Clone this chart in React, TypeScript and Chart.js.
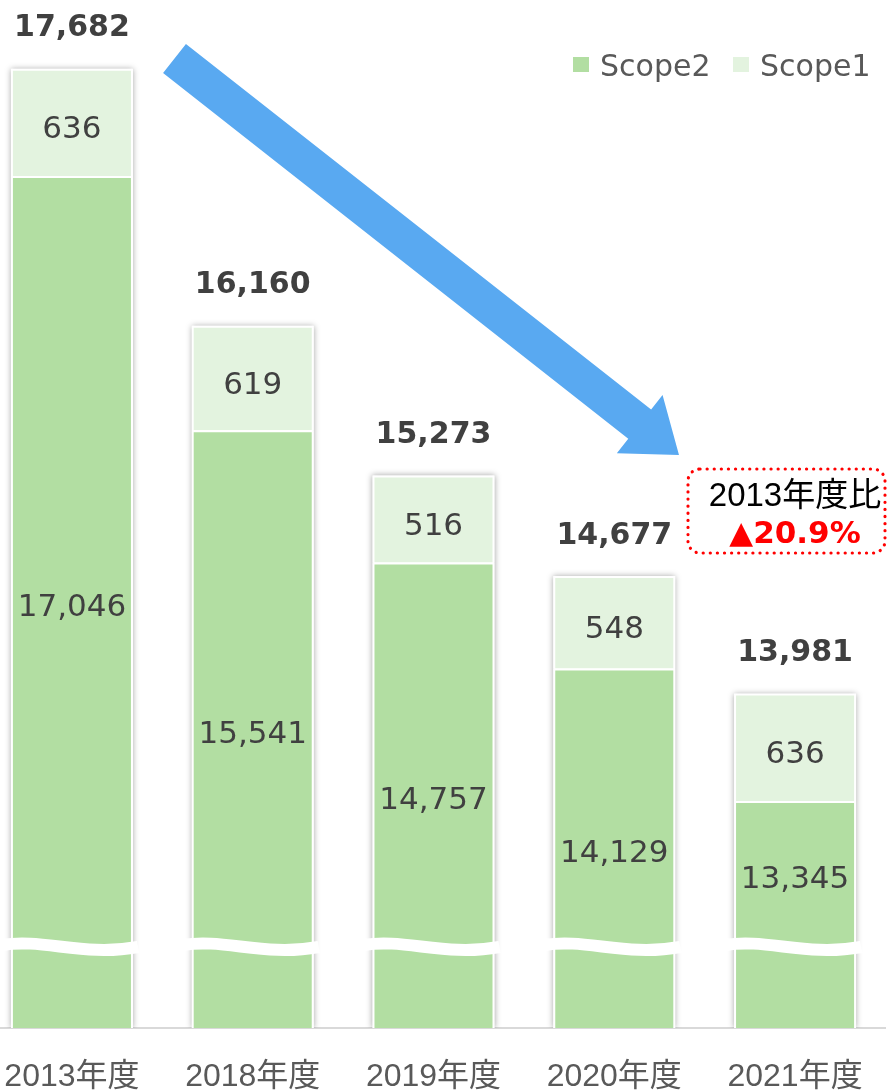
import React, { useEffect, useRef } from "react";
import { Chart, registerables } from "chart.js";

Chart.register(...registerables);

// ---- data ----
const categories = ["2013年度", "2018年度", "2019年度", "2020年度", "2021年度"];
const seriesNames = ["Scope2", "Scope1"];
const scope2 = [17046, 15541, 14757, 14129, 13345];
const scope1 = [636, 619, 516, 548, 636];
const axisMin = 12000;
const axisMax = 18000;
const noteLines = ["2013年度比", "▲20.9%"];

// ---- style ----
const SCOPE2_COLOR = "#b2dea2";
const SCOPE1_COLOR = "#e3f3df";
const TEXT_DARK = "#404040";
const TEXT_GREY = "#595959";
const ARROW_COLOR = "#59a9f1";
const OX = 25; // canvas is shifted left by this many px
const CW = 917;
const BREAK_OFFSET = 82; // px above the axis where the break wave sits
const NUM_FONT = '"DejaVu Sans", Verdana, sans-serif';
const JP_FONT = '"Liberation Sans", "Noto Sans CJK JP", sans-serif';

const fmt = (v: number) => v.toLocaleString("en-US");

const decorPlugin = {
  id: "decor",
  beforeDatasetsDraw(chart: any) {
    const ctx = chart.ctx as CanvasRenderingContext2D;
    const area = chart.chartArea;
    const top = chart.getDatasetMeta(1);
    ctx.save();
    ctx.beginPath();
    ctx.rect(0, 0, chart.width, area.bottom);
    ctx.clip();
    ctx.shadowColor = "rgba(0,0,0,0.35)";
    ctx.shadowBlur = 6;
    ctx.fillStyle = "#ffffff";
    top.data.forEach((el: any) => {
      const p = el.getProps(["x", "y", "width"], true);
      ctx.fillRect(p.x - p.width / 2, p.y, p.width, area.bottom - p.y);
    });
    ctx.restore();
  },
  afterDatasetsDraw(chart: any) {
    const ctx = chart.ctx as CanvasRenderingContext2D;
    const area = chart.chartArea;
    const m0 = chart.getDatasetMeta(0);
    const m1 = chart.getDatasetMeta(1);
    const yBreak = area.bottom - BREAK_OFFSET;

    // axis break waves
    ctx.save();
    ctx.strokeStyle = "#ffffff";
    ctx.lineWidth = 12;
    m0.data.forEach((el: any) => {
      const p = el.getProps(["x", "width"], true);
      const xL = p.x - p.width / 2 - 9;
      const xR = p.x + p.width / 2 + 5;
      const W = xR - xL;
      const yc = yBreak;
      ctx.beginPath();
      ctx.moveTo(xL, yc - 1);
      ctx.bezierCurveTo(xL + 0.3 * W, yc - 8, xL + 0.6 * W, yc + 11, xR, yc + 1);
      ctx.stroke();
    });
    ctx.restore();

    // segment labels
    ctx.save();
    ctx.textAlign = "center";
    ctx.textBaseline = "middle";
    ctx.fillStyle = TEXT_DARK;
    ctx.font = `31px ${NUM_FONT}`;
    m0.data.forEach((el: any, i: number) => {
      const p = el.getProps(["x", "y", "base"], true);
      const base = Math.min(p.base, area.bottom);
      let cy = (p.y + base) / 2;
      if (yBreak - cy < 50) cy = (p.y + yBreak) / 2;
      ctx.fillText(fmt(scope2[i]), p.x, cy + 6);
    });
    m1.data.forEach((el: any, i: number) => {
      const p = el.getProps(["x", "y", "base"], true);
      ctx.fillText(fmt(scope1[i]), p.x, (p.y + p.base) / 2 + 8);
    });
    // totals
    ctx.font = `bold 30px ${NUM_FONT}`;
    m1.data.forEach((el: any, i: number) => {
      const p = el.getProps(["x", "y"], true);
      ctx.fillText(fmt(scope1[i] + scope2[i]), p.x, p.y - 40);
    });
    ctx.restore();
  },
  afterDraw(chart: any) {
    const ctx = chart.ctx as CanvasRenderingContext2D;
    // arrow
    const T = { x: 174.5 + OX, y: 58.5 };
    const P = { x: 679 + OX, y: 455 };
    const dx = P.x - T.x;
    const dy = P.y - T.y;
    const L = Math.hypot(dx, dy);
    const d = { x: dx / L, y: dy / L };
    const n = { x: -d.y, y: d.x };
    const headLen = 50;
    const B = { x: P.x - d.x * headLen, y: P.y - d.y * headLen };
    const hw = 18.5;
    const HW = 37;
    ctx.save();
    ctx.fillStyle = ARROW_COLOR;
    ctx.beginPath();
    ctx.moveTo(T.x + n.x * hw, T.y + n.y * hw);
    ctx.lineTo(B.x + n.x * hw, B.y + n.y * hw);
    ctx.lineTo(B.x + n.x * HW, B.y + n.y * HW);
    ctx.lineTo(P.x, P.y);
    ctx.lineTo(B.x - n.x * HW, B.y - n.y * HW);
    ctx.lineTo(B.x - n.x * hw, B.y - n.y * hw);
    ctx.lineTo(T.x - n.x * hw, T.y - n.y * hw);
    ctx.closePath();
    ctx.fill();
    ctx.restore();

    // note box
    ctx.save();
    const bx = 688 + OX, by = 469, bw = 197, bh = 84, r = 12;
    ctx.strokeStyle = "#ff0000";
    ctx.lineWidth = 3.2;
    ctx.lineCap = "round";
    ctx.setLineDash([0.1, 7]);
    ctx.beginPath();
    ctx.moveTo(bx + r, by);
    ctx.lineTo(bx + bw - r, by);
    ctx.arcTo(bx + bw, by, bx + bw, by + r, r);
    ctx.lineTo(bx + bw, by + bh - r);
    ctx.arcTo(bx + bw, by + bh, bx + bw - r, by + bh, r);
    ctx.lineTo(bx + r, by + bh);
    ctx.arcTo(bx, by + bh, bx, by + bh - r, r);
    ctx.lineTo(bx, by + r);
    ctx.arcTo(bx, by, bx + r, by, r);
    ctx.closePath();
    ctx.stroke();
    ctx.setLineDash([]);
    ctx.textAlign = "center";
    ctx.textBaseline = "middle";
    ctx.fillStyle = "#000000";
    ctx.font = `33px ${JP_FONT}`;
    ctx.fillText(noteLines[0], 795 + OX, 497);
    ctx.fillStyle = "#ff0000";
    ctx.font = `bold 31px ${NUM_FONT}`;
    ctx.fillText(noteLines[1], 795 + OX, 535);
    ctx.restore();

    // legend
    ctx.save();
    ctx.textAlign = "left";
    ctx.textBaseline = "alphabetic";
    ctx.font = `30px ${NUM_FONT}`;
    const items = [
      { name: seriesNames[0], color: SCOPE2_COLOR, sx: 573, tx: 600 },
      { name: seriesNames[1], color: SCOPE1_COLOR, sx: 733, tx: 760 },
    ];
    items.forEach((it) => {
      ctx.fillStyle = it.color;
      ctx.fillRect(it.sx + OX, 57, 16, 15);
      ctx.fillStyle = TEXT_GREY;
      ctx.fillText(it.name, it.tx + OX, 76);
    });
    ctx.restore();
  },
};

export default function App() {
  const ref = useRef<HTMLCanvasElement>(null);
  useEffect(() => {
    document.body.style.margin = "0";
    document.body.style.overflow = "hidden";
    const chart = new Chart(ref.current!, {
      type: "bar",
      data: {
        labels: categories,
        datasets: [
          {
            label: seriesNames[0],
            data: scope2,
            backgroundColor: SCOPE2_COLOR,
            borderColor: "#ffffff",
            borderWidth: 2,
            borderSkipped: "start",
            barPercentage: 0.675,
            categoryPercentage: 1,
          },
          {
            label: seriesNames[1],
            data: scope1,
            backgroundColor: SCOPE1_COLOR,
            borderColor: "#ffffff",
            borderWidth: 2,
            borderSkipped: "start",
            barPercentage: 0.675,
            categoryPercentage: 1,
          },
        ],
      },
      options: {
        animation: false,
        responsive: false,
        devicePixelRatio: 1,
        layout: { padding: { top: 15, left: 0, right: 0, bottom: 0 } },
        plugins: { legend: { display: false }, tooltip: { enabled: false } },
        scales: {
          x: {
            stacked: true,
            grid: { display: false, drawTicks: false },
            border: { display: true, color: "#d9d9d9", width: 2 },
            ticks: {
              color: TEXT_GREY,
              font: { family: JP_FONT, size: 32 },
              padding: 30,
              autoSkip: false,
              maxRotation: 0,
            },
            afterFit: (s: any) => {
              s.height = 63;
            },
          },
          y: { stacked: true, display: false, min: axisMin, max: axisMax },
        },
      },
      plugins: [decorPlugin],
    } as any);
    return () => chart.destroy();
  }, []);
  return (
    <div style={{ position: "relative", width: 888, height: 1091, overflow: "hidden" }}>
      <canvas
        ref={ref}
        width={CW}
        height={1091}
        style={{ position: "absolute", left: -OX, top: 0, width: CW, height: 1091 }}
      />
    </div>
  );
}
